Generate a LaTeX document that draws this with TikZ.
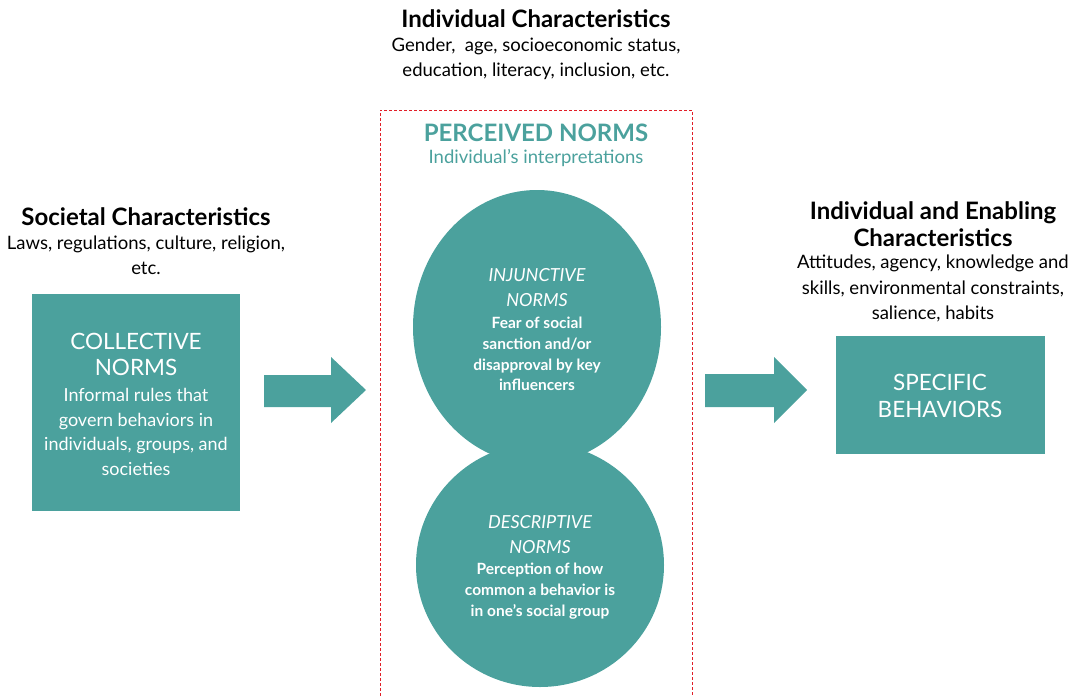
\documentclass[tikz,border=0pt]{standalone}
\usepackage{fontspec}
\setmainfont{Lato}
\definecolor{teal}{RGB}{75,161,157}
\definecolor{dashred}{RGB}{225,30,40}
\tikzset{
  head/.style={font=\fontsize{24}{27}\selectfont\bfseries, align=center, inner sep=0pt},
  sub/.style={font=\fontsize{18.5}{25.5}\selectfont, align=center, inner sep=0pt},
  boxfill/.style={fill=teal, draw=none},
  intitle/.style={font=\fontsize{22.5}{26.5}\selectfont, text=white, align=center, inner sep=0pt},
  intext/.style={font=\fontsize{18}{24.5}\selectfont, text=white, align=center, inner sep=0pt},
  circtitle/.style={font=\fontsize{18}{25}\selectfont\itshape, text=white, align=center, inner sep=0pt},
  circtext/.style={font=\fontsize{15.5}{20.7}\selectfont\bfseries, text=white, align=center, inner sep=0pt},
  bigarrow/.style={fill=teal, draw=none},
}
\begin{document}
\begin{tikzpicture}[x=1pt,y=-1pt]
\useasboundingbox (0,0) rectangle (1077,696);
% dashed frame
\draw[dashred, line width=0.9pt, dash pattern=on 3pt off 2pt] (380,696) -- (380,110) -- (692,110) -- (692,696);
% top heading
\node[head] (ich) at (536,19) {Individual Characteristics};
\node[sub] (icht) at (536,59) {Gender,\ \ age, socioeconomic status,\\education, literacy, inclusion, etc.};
% perceived norms
\node[head, text=teal] (pn) at (536,133) {PERCEIVED NORMS};
\node[sub, text=teal] (pnt) at (536,158) {Individual's interpretations};
% circles
\fill[teal] (537,327) ellipse [x radius=124, y radius=137];
\fill[teal] (540,565) ellipse [x radius=124, y radius=122];
\node[circtitle] (inj) at (537,287.5) {INJUNCTIVE\\NORMS};
\node[circtext] (injt) at (537,354) {Fear of social\\sanction and/or\\disapproval by key\\influencers};
\node[circtitle] (des) at (540,534.5) {DESCRIPTIVE\\NORMS};
\node[circtext] (dest) at (540,591) {Perception of how\\common a behavior is\\in one's social group};
% left
\node[head] (sch) at (146,217) {Societal Characteristics};
\node[sub] (scht) at (146,255.5) {Laws, regulations, culture, religion,\\etc.};
\node[boxfill, minimum width=208, minimum height=217, anchor=north west] (coll) at (32,294) {};
\node[intitle] (collt) at (136,354.5) {COLLECTIVE\\NORMS};
\node[intext] (colltx) at (136,432) {Informal rules that\\govern behaviors in\\individuals, groups, and\\societies};
% arrows
\fill[bigarrow] (264,375) -- (331,375) -- (331,357) -- (366,390) -- (331,423) -- (331,407) -- (264,407) -- cycle;
\fill[bigarrow] (705,374) -- (774,374) -- (774,357) -- (807,390) -- (774,423) -- (774,407) -- (705,407) -- cycle;
% right
\node[head] (iec) at (933,224.5) {Individual and Enabling\\Characteristics};
\node[sub] (iect) at (933,288.5) {Attitudes, agency, knowledge and\\skills, environmental constraints,\\salience, habits};
\node[boxfill, minimum width=209, minimum height=118, anchor=north west] (spec) at (836,336) {};
\node[intitle] (spect) at (940,396) {SPECIFIC\\BEHAVIORS};
\end{tikzpicture}
\end{document}
